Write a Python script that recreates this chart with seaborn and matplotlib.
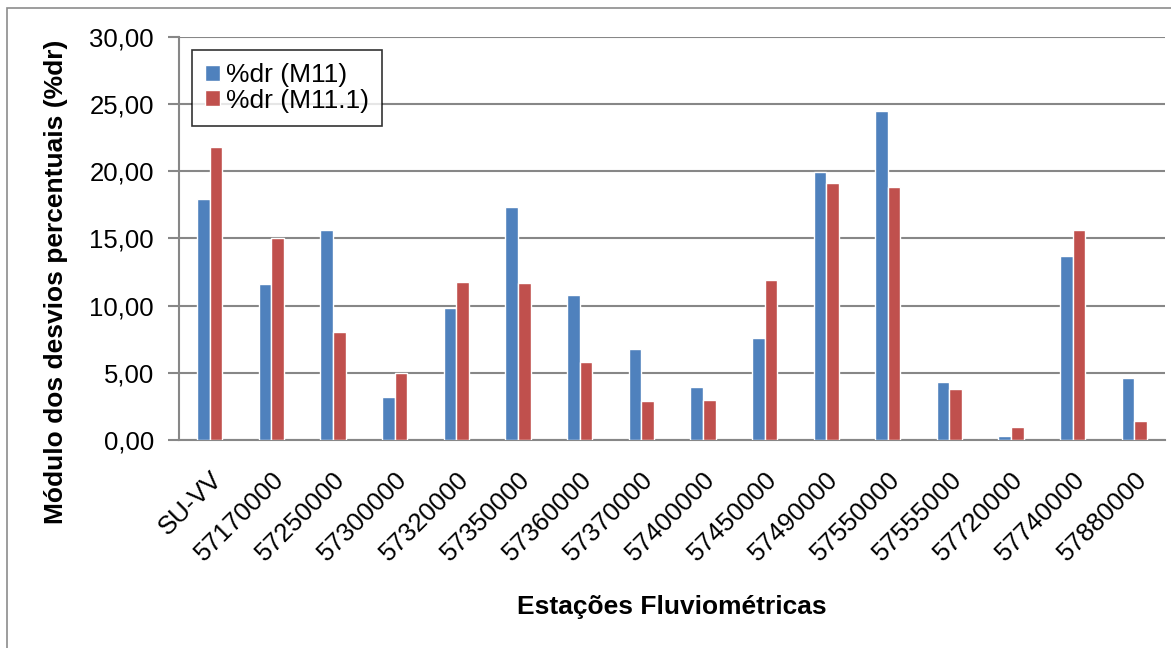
import matplotlib
matplotlib.use("Agg")
import matplotlib.pyplot as plt
import matplotlib.patches as mpatches
from matplotlib.ticker import FuncFormatter
import seaborn as sns
import pandas as pd

# ====================================================
# DATA
# ====================================================

stations = ['SU-VV', '57170000', '57250000', '57300000', '57320000', '57350000',
            '57360000', '57370000', '57400000', '57450000', '57490000', '57550000',
            '57555000', '57720000', '57740000', '57880000']
dr_m11 = [17.9, 11.65, 15.6, 3.2, 9.85, 17.35, 10.8, 6.8, 3.95, 7.6,
          19.95, 24.45, 4.35, 0.35, 13.7, 4.65]
dr_m111 = [21.8, 15.05, 8.05, 5.0, 11.8, 11.7, 5.8, 2.95, 2.98, 11.9,
           19.15, 18.8, 3.8, 1.0, 15.6, 1.4]
series_names = ['%dr (M11)', '%dr (M11.1)']
colors = ['#4F81BD', '#C0504D']

df = pd.DataFrame({
    'Estação': stations * 2,
    'valor': dr_m11 + dr_m111,
    'serie': [series_names[0]] * len(stations) + [series_names[1]] * len(stations),
})

# ====================================================
# PLOT
# ====================================================

sns.set_style("white")
plt.rcParams['font.family'] = ['Liberation Sans', 'DejaVu Sans']
plt.rcParams['text.color'] = 'black'
plt.rcParams['axes.labelcolor'] = 'black'

fig = plt.figure(figsize=(11.71, 6.48), dpi=100)
ax = fig.add_axes([0.1529, 0.3205, 0.8421, 0.6229])

# outer chart border (runs off the right and bottom edges)
border = mpatches.Rectangle((7 / 1171, -0.05), 1.1, (648 - 8) / 648 + 0.05,
                            transform=fig.transFigure, fill=False,
                            edgecolor='#8c8c8c', linewidth=1.2)
fig.patches.append(border)

sns.barplot(data=df, x='Estação', y='valor', hue='serie', palette=colors,
            width=0.41, gap=0, saturation=1, ax=ax, zorder=3)

ax.set_ylim(0, 30)
ax.set_yticks([0, 5, 10, 15, 20, 25, 30])
ax.yaxis.set_major_formatter(FuncFormatter(lambda v, p: f"{v:.2f}".replace('.', ',')))
ax.grid(axis='y', color='#878787', linewidth=1.5, zorder=0)
ax.set_axisbelow(True)

for s in ['top', 'right']:
    ax.spines[s].set_visible(False)
ax.spines['left'].set_color('#878787')
ax.spines['bottom'].set_color('#878787')
ax.spines['left'].set_linewidth(1.5)
ax.spines['bottom'].set_linewidth(1.5)

ax.tick_params(axis='y', left=True, length=8, width=1.5, color='#878787',
               labelcolor='black', labelsize=18.5, pad=10)
ax.tick_params(axis='x', bottom=False, labelcolor='black', labelsize=18.5, pad=16)
plt.setp(ax.get_xticklabels(), rotation=45, ha='right', rotation_mode='anchor')

ax.set_xlabel("Estações Fluviométricas", fontsize=19, fontweight='bold')
ax.set_ylabel("Módulo dos desvios percentuais (%dr)", fontsize=19, fontweight='bold')
ax.xaxis.set_label_coords(0.5, -0.383)
ax.yaxis.set_label_coords(-0.113, 0.392)

leg = ax.legend(loc='upper left', bbox_to_anchor=(0.013, 0.967), fontsize=19,
                frameon=True, fancybox=False, handlelength=0.55, handleheight=0.55,
                handletextpad=0.25, borderpad=0.5, labelspacing=0.05,
                borderaxespad=0)
leg.get_frame().set_edgecolor('black')
leg.get_frame().set_linewidth(1.2)
leg.set_title(None)

plt.savefig("out.png", dpi=100)
plt.close()
